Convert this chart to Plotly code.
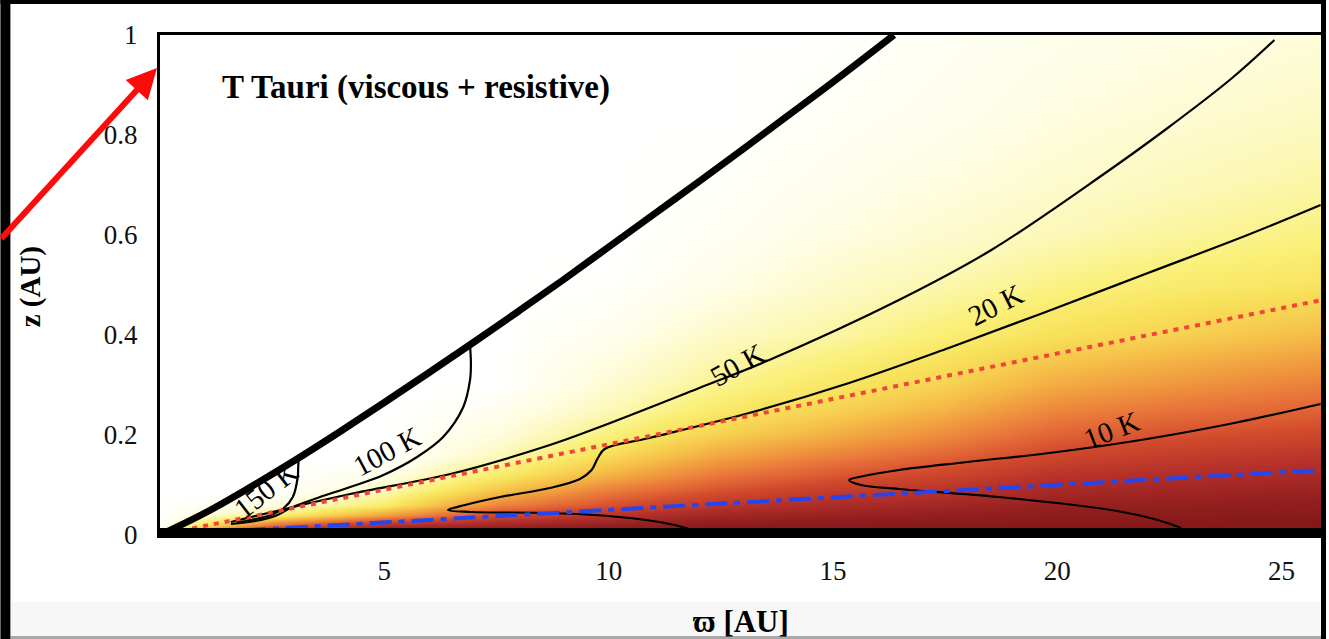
import plotly.graph_objects as go

# ---- background shading (relative brightness of the disk, 0 = dense midplane, 1 = empty) ----
varpi_grid = [0, 2.5, 5, 7.5, 10, 12.5, 15, 17.5, 20, 22.5, 25.9]
z_grid = [0, 0.01, 0.02, 0.04, 0.06, 0.09, 0.12, 0.16, 0.2, 0.25, 0.3, 0.4, 0.5, 0.6, 0.7, 0.85, 1.0]
shade = [
    [0.0, 0.02, 0.02, 0.02, 0.02, 0.02, 0.02, 0.02, 0.02, 0.02, 0.02],
    [0.9, 0.20, 0.08, 0.08, 0.06, 0.05, 0.04, 0.035, 0.035, 0.03, 0.03],
    [1.0, 0.50, 0.25, 0.18, 0.12, 0.085, 0.07, 0.06, 0.05, 0.045, 0.04],
    [1.0, 0.85, 0.62, 0.38, 0.27, 0.18, 0.14, 0.12, 0.09, 0.08, 0.07],
    [1.0, 0.95, 0.82, 0.55, 0.40, 0.28, 0.22, 0.18, 0.13, 0.12, 0.10],
    [1.0, 1.0, 0.91, 0.71, 0.53, 0.40, 0.32, 0.27, 0.20, 0.18, 0.15],
    [1.0, 1.0, 0.965, 0.82, 0.66, 0.51, 0.42, 0.35, 0.27, 0.24, 0.21],
    [1.0, 1.0, 1.0, 0.91, 0.77, 0.63, 0.54, 0.46, 0.36, 0.32, 0.28],
    [1.0, 1.0, 1.0, 0.945, 0.84, 0.73, 0.65, 0.56, 0.45, 0.40, 0.36],
    [1.0, 1.0, 1.0, 0.975, 0.90, 0.81, 0.74, 0.66, 0.55, 0.50, 0.45],
    [1.0, 1.0, 1.0, 1.0, 0.93, 0.86, 0.80, 0.74, 0.64, 0.59, 0.53],
    [1.0, 1.0, 1.0, 1.0, 0.97, 0.915, 0.88, 0.83, 0.78, 0.74, 0.68],
    [1.0, 1.0, 1.0, 1.0, 0.995, 0.96, 0.92, 0.89, 0.85, 0.82, 0.79],
    [1.0, 1.0, 1.0, 1.0, 1.0, 0.98, 0.95, 0.925, 0.90, 0.875, 0.845],
    [1.0, 1.0, 1.0, 1.0, 1.0, 0.99, 0.968, 0.947, 0.925, 0.905, 0.88],
    [1.0, 1.0, 1.0, 1.0, 1.0, 1.0, 0.985, 0.97, 0.95, 0.935, 0.915],
    [1.0, 1.0, 1.0, 1.0, 1.0, 1.0, 0.995, 0.98, 0.965, 0.955, 0.94],
]

# ---- disk surface ----
surface_varpi = [0, 1, 2, 3, 4, 5, 6, 7, 8, 9, 10, 11, 12, 13, 14, 15, 16.36]
surface_z = [0, 0.044, 0.095, 0.149, 0.206, 0.265, 0.325, 0.386, 0.448, 0.511,
             0.576, 0.641, 0.706, 0.772, 0.839, 0.906, 1.0]

# ---- temperature contours ----
t150_varpi = [3.09, 3.08, 3.07, 2.96, 2.76, 2.47, 2.02, 1.7]
t150_z = [0.15, 0.135, 0.116, 0.076, 0.054, 0.04, 0.03, 0.025]

t100_varpi = [6.91, 6.93, 6.91, 6.76, 6.31, 5.73, 4.98, 4.24, 3.51, 2.91, 2.62, 2.13, 1.58]
t100_z = [0.38, 0.34, 0.31, 0.256, 0.196, 0.156, 0.12, 0.096, 0.074, 0.054, 0.04, 0.028, 0.022]

t50_varpi = [24.84, 23.87, 22.4, 21.07, 18.53, 16.47, 13.58, 12.02, 9.8, 8.69,
             6.47, 4.24, 2.69, 1.58]
t50_z = [0.99, 0.912, 0.81, 0.724, 0.57, 0.47, 0.35, 0.294, 0.216, 0.18,
         0.122, 0.082, 0.05, 0.026]

t20_varpi = [25.87, 24.24, 22.02, 19.8, 17.58, 15.36, 13.13, 10.91, 9.91, 9.76, 9.62,
             9.36, 8.69, 7.58, 6.8, 6.42, 6.91, 8.69, 10.24, 11.36, 12.02]
t20_z = [0.66, 0.6, 0.524, 0.448, 0.374, 0.304, 0.244, 0.194, 0.172, 0.154, 0.13,
         0.112, 0.094, 0.076, 0.06, 0.05, 0.046, 0.044, 0.036, 0.022, 0.006]

t10_varpi = [25.87, 24.0, 22.0, 20.0, 18.0, 16.47, 15.58, 15.36, 15.62, 16.47,
             18.69, 21.2, 22.24, 22.76]
t10_z = [0.262, 0.225, 0.192, 0.166, 0.146, 0.13, 0.116, 0.11, 0.1, 0.092,
         0.076, 0.05, 0.03, 0.014]

# ---- reference heights ----
dotted_varpi = [0, 25.9]
dotted_z = [0, 0.47]
dashdot_varpi = [0, 25.9]
dashdot_z = [0, 0.13]

# ---- contour labels ----
label_text = ["150 K", "100 K", "50 K", "20 K", "10 K"]
label_varpi = [2.36, 5.07, 12.87, 18.62, 21.2]
label_z = [0.09, 0.168, 0.34, 0.46, 0.21]
label_angle = [-38, -28, -29, -27, -21]

x_ticks = [5, 10, 15, 20, 25]
y_ticks = [0, 0.2, 0.4, 0.6, 0.8, 1]
y_ticktext = ["0", "0.2", "0.4", "0.6", "0.8", "1"]

SERIF = "Liberation Serif, Times New Roman, serif"
W, H = 1329, 639
L, R, T, B = 160, 4, 35, 104
PW, PH = W - L - R, H - T - B


def px_x(p):
    return (p - L) / PW


def px_y(p):
    return (H - B - p) / PH


fig = go.Figure()

fig.add_trace(go.Heatmap(
    x=varpi_grid, y=z_grid, z=shade, zsmooth="best", showscale=False,
    zmin=0, zmax=1, hoverinfo="skip",
    colorscale=[[0.0, "#7e1416"], [0.12, "#931f1f"], [0.25, "#b3302a"],
                [0.38, "#d24a2c"], [0.5, "#e8733a"], [0.6, "#f09a3e"],
                [0.7, "#f6c34a"], [0.78, "#f8e15a"], [0.84, "#faf07a"],
                [0.9, "#fcf8b8"], [0.95, "#fefde2"], [1.0, "#ffffff"]],
))

for vx, vz in [(t150_varpi, t150_z), (t100_varpi, t100_z), (t50_varpi, t50_z),
               (t20_varpi, t20_z), (t10_varpi, t10_z)]:
    fig.add_trace(go.Scatter(x=vx, y=vz, mode="lines", line_shape="spline",
                             line=dict(color="black", width=2.2), hoverinfo="skip"))

fig.add_trace(go.Scatter(x=dotted_varpi, y=dotted_z, mode="lines",
                         line=dict(color="#f0463a", width=4, dash="5px,6px"), hoverinfo="skip"))
fig.add_trace(go.Scatter(x=dashdot_varpi, y=dashdot_z, mode="lines",
                         line=dict(color="#2446f2", width=4, dash="22px,7px,6px,7px"),
                         hoverinfo="skip"))
fig.add_trace(go.Scatter(x=surface_varpi, y=surface_z, mode="lines", line_shape="spline",
                         line=dict(color="black", width=7), hoverinfo="skip"))

annotations = []
for txt, vx, vz, ang in zip(label_text, label_varpi, label_z, label_angle):
    annotations.append(dict(x=vx, y=vz, xref="x", yref="y", text=txt, showarrow=False,
                            textangle=ang, font=dict(family=SERIF, size=29, color="black")))

annotations += [
    dict(x=px_x(220), y=px_y(87), xref="paper", yref="paper", xanchor="left",
         yanchor="middle", text="<b>T Tauri (viscous + resistive)</b>", showarrow=False,
         font=dict(family=SERIF, size=33, color="black")),
    dict(x=0.5, y=px_y(621), xref="paper", yref="paper", text="<b>ϖ [AU]</b>",
         showarrow=False, xanchor="center", yanchor="middle",
         font=dict(family=SERIF, size=31, color="black")),
    dict(x=px_x(30), y=px_y(287), xref="paper", yref="paper", text="<b>z (AU)</b>",
         showarrow=False, textangle=-90, xanchor="center", yanchor="middle",
         font=dict(family=SERIF, size=29, color="black")),
    dict(x=px_x(157), y=px_y(68), xref="paper", yref="paper", text="", showarrow=True,
         ax=-160, ay=172, arrowcolor="#ff0a0a", arrowwidth=6, arrowhead=2, arrowsize=1),
]

shapes = [
    # bottom spine
    dict(type="rect", xref="paper", yref="paper", x0=0, x1=1, y0=px_y(537), y1=px_y(528),
         fillcolor="black", line_width=0, layer="above"),
    # page frame
    dict(type="rect", xref="paper", yref="paper", x0=px_x(0), x1=px_x(10), y0=px_y(H), y1=px_y(0),
         fillcolor="black", line_width=0, layer="above"),
    dict(type="rect", xref="paper", yref="paper", x0=px_x(0), x1=px_x(W), y0=px_y(4), y1=px_y(0),
         fillcolor="black", line_width=0, layer="above"),
    dict(type="rect", xref="paper", yref="paper", x0=px_x(1324), x1=px_x(W), y0=px_y(H), y1=px_y(0),
         fillcolor="black", line_width=0, layer="above"),
    dict(type="rect", xref="paper", yref="paper", x0=px_x(10), x1=px_x(1324), y0=px_y(636), y1=px_y(602),
         fillcolor="#f7f7f7", line_width=0, layer="below"),
    dict(type="rect", xref="paper", yref="paper", x0=px_x(10), x1=px_x(1324), y0=px_y(H), y1=px_y(636),
         fillcolor="#a9a9a9", line_width=0, layer="below"),
]

fig.update_layout(
    width=W, height=H, margin=dict(l=L, r=R, t=T, b=B),
    paper_bgcolor="white", plot_bgcolor="white", showlegend=False,
    annotations=annotations, shapes=shapes,
    xaxis=dict(range=[0, 25.9], tickvals=x_ticks, showgrid=False, zeroline=False,
               showline=True, linecolor="black", linewidth=3, mirror=True,
               ticks="inside", ticklen=4, tickcolor="black",
               ticklabelstandoff=10, tickfont=dict(family=SERIF, size=27, color="#111")),
    yaxis=dict(range=[0, 1], tickvals=y_ticks, ticktext=y_ticktext, showgrid=False,
               zeroline=False, showline=True, linecolor="black", linewidth=3, mirror=True,
               ticks="", ticklabelstandoff=14,
               tickfont=dict(family=SERIF, size=27, color="#111")),
)

fig.write_html("out.html")
